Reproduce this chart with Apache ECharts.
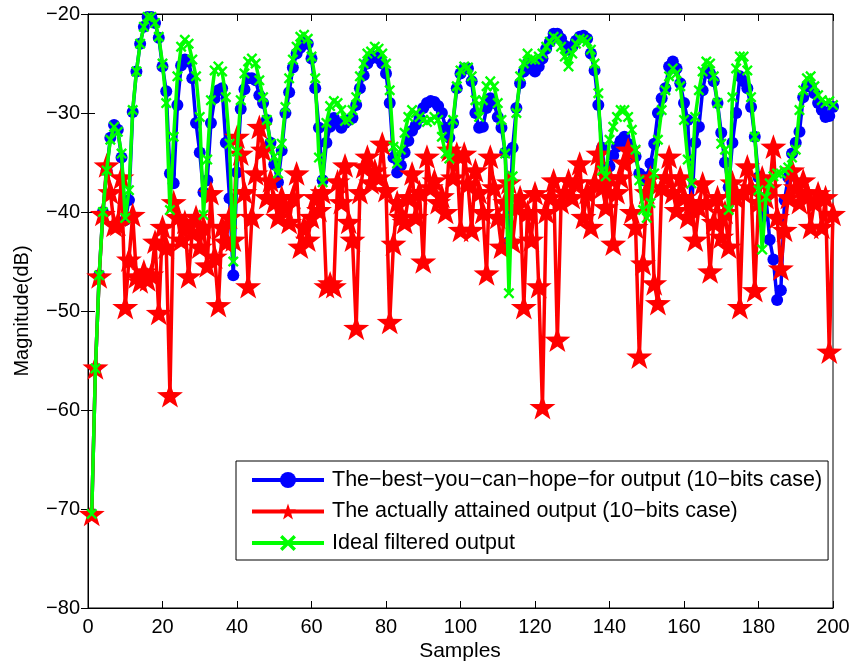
<!DOCTYPE html>
<html>
<head>
<meta charset="utf-8">
<script src="https://cdn.jsdelivr.net/npm/echarts@6/dist/echarts.min.js"></script>
<style>html,body{margin:0;padding:0;background:#fff}#c{width:857px;height:668px}</style>
</head>
<body>
<div id="c"></div>
<script>
const FONT = '"Liberation Sans", Arial, Helvetica, sans-serif';
const seriesNames = [
  'The\u2212best\u2212you\u2212can\u2212hope\u2212for output (10\u2212bits case)',
  'The actually attained output (10\u2212bits case)',
  'Ideal filtered output'
];
const xTicks = [0, 20, 40, 60, 80, 100, 120, 140, 160, 180, 200];
const yTicks = [-80, -70, -60, -50, -40, -30, -20];

const ideal = [
-70.5,-55.8,-46.4,-40,-35.8,-32.7,-31.4,-31.9,-34.1,-40.6,
-37.8,-29.7,-25.8,-23,-21.3,-20.3,-20.3,-20.9,-22.3,-25,
-29,-39.8,-32.4,-26.3,-23.3,-22.6,-23,-24.6,-26.3,-30.4,
-40.3,-34.7,-28.7,-25.7,-25.3,-25.8,-28.4,-33.1,-45,-33.9,
-28.7,-26,-24.8,-24.5,-25,-26.7,-28.4,-30.7,-33.1,-34.4,
-36.1,-33.1,-29.4,-26.5,-24.6,-23.3,-22.3,-22.1,-22.5,-24.3,
-26.5,-34.5,-37,-31,-29.3,-28.8,-29,-29.7,-30.8,-30.7,
-29.7,-28.4,-26.3,-25,-24,-23.8,-23.3,-23.5,-24,-25,
-27.7,-33.4,-35.1,-33.7,-32,-30.4,-29.7,-30,-30.4,-30.7,
-30.9,-30.7,-30.4,-30.7,-32.4,-34.1,-34.6,-30.7,-27.3,-25.7,
-25.3,-25.4,-26.3,-28.7,-30.4,-28.7,-27.3,-26.8,-27.3,-29,
-30.7,-34.1,-48.2,-36.4,-30,-26.3,-25,-24,-24.6,-24.6,
-24.3,-24,-23.3,-22.8,-22.3,-22.5,-23.3,-24.3,-25.3,-24,
-23,-22.5,-22.6,-22.8,-23.6,-25,-28,-35.8,-36.4,-32.7,
-31.4,-30.4,-29.7,-29.7,-30.4,-31.7,-33.7,-36.8,-39.8,-40.6,
-39.1,-36.1,-32.7,-29.7,-27.7,-26.3,-25.5,-26,-27.3,-30.7,
-34.7,-37.1,-30.4,-27.7,-25.8,-24.8,-25,-26.3,-29,-33.1,
-33.7,-39.8,-28.4,-25.5,-24.3,-24.3,-25.7,-28.4,-32.4,-37.8,
-43.8,-38.5,-37.1,-36.4,-36.1,-36.1,-35.8,-35.5,-34.5,-33.7,
-29.7,-27.7,-26.5,-26.3,-27.3,-28.2,-28.7,-29,-28.8,-29.2
];

const best = [
-70.5,-55.8,-46.4,-40,-35.8,-32.5,-31.2,-31.7,-34.5,-40.8,
-38.8,-29.9,-25.8,-23,-21.3,-20.3,-20.3,-20.9,-22.4,-25.3,
-27.8,-36.1,-37.1,-29.2,-25.2,-24.6,-24.8,-26.5,-31,-34,
-38,-36.8,-31,-28.5,-27.7,-27.5,-33,-38.6,-46.4,-36,
-29.6,-27.6,-26.5,-26.5,-26.7,-28.2,-29,-30.7,-33,-35.2,
-37,-33.8,-30,-27.9,-25.4,-24,-23.4,-22.9,-23,-24.5,
-27.5,-31.5,-36.8,-33,-31.4,-30.5,-31,-31.5,-31,-30.7,
-30.5,-29.2,-27.5,-26.2,-25,-24.5,-24.3,-24.5,-25,-26,
-29,-34.5,-36,-35.3,-34,-32.8,-31.8,-31.2,-30.5,-29.5,
-29,-28.8,-28.9,-29.3,-30,-31.5,-32.5,-31,-27.5,-26,
-25.5,-25.5,-26.8,-30,-31.5,-31.4,-29.5,-28.5,-29,-30.4,
-31.5,-34,-43,-33.5,-29.5,-27,-25.8,-25,-25.5,-25.8,
-25.3,-24.5,-23.5,-22.8,-22,-22,-22.5,-23.2,-23.6,-23.3,
-22.7,-22.3,-22.2,-22.5,-24,-25.7,-29.2,-33.5,-37.1,-35.4,
-34.3,-33.4,-32.8,-32.4,-33.1,-33.6,-34.4,-36.1,-36.8,-36.5,
-35.1,-33.1,-30,-28.5,-27.5,-25.3,-24.8,-25.5,-27,-29,
-30.7,-40,-33,-31.4,-27.7,-25.8,-26,-26.8,-29,-32,
-35,-37.5,-33,-30,-26.3,-26.8,-27.5,-29.4,-32.4,-36.5,
-40.5,-38.5,-42.8,-44.8,-48.9,-47.9,-38.8,-36.5,-34.1,-33,
-31.9,-28.4,-27.3,-27.3,-28,-29,-29.7,-30.4,-30.3,-29.4
];

const attained = [
-70.5,-55.7,-46.5,-40.2,-35.3,-38,-41.3,-41.2,-36.5,-49.6,
-44.8,-40.3,-46.5,-47,-46,-46.8,-46.3,-43,-50.2,-41.5,
-43.5,-58.5,-39,-40.5,-42.8,-41,-46.5,-42,-40.5,-43.5,
-41.5,-45.4,-38.1,-44.5,-49.4,-41.5,-43,-40.5,-42.8,-32.4,
-34.1,-38,-47.5,-40.5,-36.1,-31.4,-33.7,-38.5,-36.8,-39,
-40.5,-38.5,-39.5,-41,-38.5,-36.1,-43.5,-41.5,-42.8,-40.5,
-38.5,-39.8,-38,-47.5,-47.2,-47.5,-36.9,-39,-35.3,-41,
-42.8,-51.7,-38,-35.4,-34.4,-37,-35.8,-36.5,-33.1,-37.8,
-51.1,-43.2,-39,-40.5,-41,-38.5,-36.1,-40.5,-38,-45,
-34.4,-37.5,-36.8,-39,-38.4,-40,-33.7,-36.5,-34.1,-41.8,
-34.1,-37.1,-41.8,-35.8,-38,-40,-46.2,-34.4,-37.5,-40.5,
-43.5,-39,-37,-43,-39.5,-38.5,-49.6,-40,-42.8,-38.1,
-47.5,-59.7,-40,-38.5,-36.8,-52.9,-39,-38,-36.8,-38.5,
-37,-35.1,-40.5,-38,-41.5,-37,-34.1,-37.5,-39.5,-36.5,
-43.2,-38,-36.5,-35,-33.7,-40,-41.5,-54.6,-45.2,-38,
-36.5,-47.2,-49.2,-37.5,-36.5,-34.4,-38,-39.8,-36.5,-38.5,
-40.5,-39,-42.8,-39.5,-37.1,-39,-46,-41,-38.5,-42.5,
-40,-43.5,-37,-38.5,-49.6,-38,-35.4,-37.5,-47.9,-39,
-36.5,-38.5,-37.5,-33.4,-40.5,-45.7,-41.8,-38.5,-35.8,-37.5,
-39,-36.8,-38,-41.5,-39,-38.1,-41.5,-38.5,-54.1,-40.2
];

const samples = ideal.map((_, i) => i + 1);
const pairs = arr => arr.map((v, i) => [samples[i], v]);

const STAR = 'path://M0,-10 L2.35,-3.24 L9.51,-3.09 L3.8,1.24 L5.88,8.09 L0,4 L-5.88,8.09 L-3.8,1.24 L-9.51,-3.09 L-2.35,-3.24 Z';
const XMARK = 'path://M-10,-7 L-7,-10 L0,-3 L7,-10 L10,-7 L3,0 L10,7 L7,10 L0,3 L-7,10 L-10,7 L-3,0 Z';
const minus = v => String(v).replace('-', '\u2212');

const chart = echarts.init(document.getElementById('c'), null, {renderer: 'canvas'});
const axisCommon = {
  type: 'value',
  axisLine: {show: true, lineStyle: {color: '#000', width: 1}},
  axisTick: {show: true, inside: true, length: 7, lineStyle: {color: '#000'}},
  splitLine: {show: false}
};
chart.setOption({
  animation: false,
  backgroundColor: '#fff',
  grid: {left: 88, right: 24, top: 14, bottom: 60, show: true, borderColor: '#000', borderWidth: 1, backgroundColor: 'transparent'},
  xAxis: [
    Object.assign({}, axisCommon, {min: xTicks[0], max: xTicks[xTicks.length - 1], interval: 20, position: 'bottom',
      axisLabel: {color: '#000', fontSize: 20, fontFamily: FONT, margin: 9}}),
    Object.assign({}, axisCommon, {min: xTicks[0], max: xTicks[xTicks.length - 1], interval: 20, position: 'top',
      axisLabel: {show: false}})
  ],
  yAxis: [
    Object.assign({}, axisCommon, {min: yTicks[0], max: yTicks[yTicks.length - 1], interval: 10, position: 'left',
      axisLabel: {color: '#000', fontSize: 20, fontFamily: FONT, margin: 8, formatter: minus}}),
    Object.assign({}, axisCommon, {min: yTicks[0], max: yTicks[yTicks.length - 1], interval: 10, position: 'right',
      axisLabel: {show: false}})
  ],
  legend: {
    orient: 'vertical', left: 236, top: 461,
    padding: [8, 6, 6, 14], itemGap: 9.5, itemWidth: 72, itemHeight: 20,
    borderColor: '#000', borderWidth: 1, backgroundColor: '#fff',
    lineStyle: {width: 4},
    textStyle: {color: '#000', fontSize: 21.5, fontFamily: FONT, lineHeight: 22, padding: [0, 0, 0, 3]},
    data: seriesNames
  },
  graphic: [
    {type: 'text', style: {text: 'Samples', fontSize: 21, fontFamily: FONT, fill: '#000', textAlign: 'center', textVerticalAlign: 'middle'}, x: 460, y: 651, silent: true},
    {type: 'text', style: {text: 'Magnitude(dB)', fontSize: 20, fontFamily: FONT, fill: '#000', textAlign: 'center', textVerticalAlign: 'middle'}, x: 22, y: 311, rotation: Math.PI / 2, silent: true}
  ],
  series: [
    {name: seriesNames[0], type: 'line', data: pairs(best), symbol: 'circle', symbolSize: 12,
      lineStyle: {color: '#0000ff', width: 3.5}, itemStyle: {color: '#0000ff'}, z: 2},
    {name: seriesNames[1], type: 'line', data: pairs(attained), symbol: STAR, symbolSize: 26, symbolKeepAspect: true,
      lineStyle: {color: '#ff0000', width: 3.5}, itemStyle: {color: '#ff0000'}, z: 3},
    {name: seriesNames[2], type: 'line', data: pairs(ideal), symbol: XMARK, symbolSize: 11, symbolKeepAspect: true,
      lineStyle: {color: '#00ff00', width: 3.5}, itemStyle: {color: '#00ff00'}, z: 4}
  ]
});
</script>
</body>
</html>
